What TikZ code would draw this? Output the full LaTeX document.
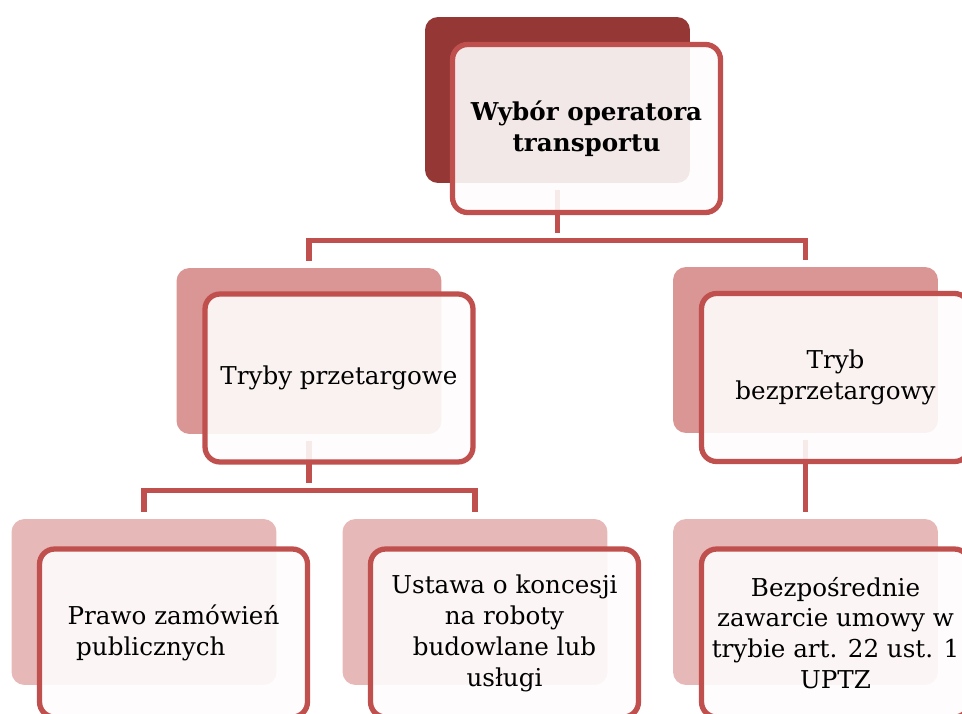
\documentclass[tikz,border=0pt]{standalone}
\usepackage{fontspec}
\setmainfont{DejaVu Serif}
\usepackage{tikz, xcolor}
\usetikzlibrary{positioning}

\definecolor{ciemny}{RGB}{149,55,53}
\definecolor{sredni}{RGB}{217,150,148}
\definecolor{jasny}{RGB}{230,185,184}
\definecolor{ramka}{RGB}{192,80,77}
\definecolor{tlo}{RGB}{254,252,252}

\tikzset{
    tyl/.style={rounded corners=0.26cm, minimum width=5.3cm, minimum height=3.32cm, inner sep=0pt},
    przod/.style={draw=ramka, line width=3pt, fill=tlo, fill opacity=0.9, text opacity=1,
        rounded corners=0.3cm, minimum width=5.36cm, minimum height=3.36cm, inner sep=0pt,
        align=center, font=\fontsize{14}{17.6}\selectfont},
    lacznik/.style={draw=ramka, line width=3pt, shorten <=4pt, shorten >=4pt}
}

\begin{document}
\begin{tikzpicture}[x=0.02cm, y=-0.02cm]
    \clip (0,0) rectangle (962,713);
    \useasboundingbox (0,0) rectangle (962,713);

    % tylne prostokaty
    \node [tyl, fill=ciemny] (wyborT) at (557.5,100) {};
    \node [tyl, fill=sredni] (przetT) at (309,351) {};
    \node [tyl, fill=sredni] (bezT) at (805.5,350) {};
    \node [tyl, fill=jasny] (prawoT) at (144,602) {};
    \node [tyl, fill=jasny] (ustawaT) at (475,602) {};
    \node [tyl, fill=jasny] (bezposT) at (805.5,602) {};

    % polaczenia
    \draw [lacznik] (wyborT.south) -- ++(0,57) coordinate (szynaA);
    \draw [lacznik, shorten <=0pt] (szynaA) -| (przetT.north);
    \draw [lacznik, shorten <=0pt] (szynaA) -| (bezT.north);
    \draw [lacznik] (przetT.south) -- ++(0,56) coordinate (szynaB);
    \draw [lacznik, shorten <=0pt] (szynaB) -| (prawoT.north);
    \draw [lacznik, shorten <=0pt] (szynaB) -| (ustawaT.north);
    \draw [lacznik] (bezT.south) -- (bezposT.north);

    % przednie prostokaty z tekstem
    \node [przod, font=\fontsize{14}{17.6}\selectfont\bfseries] (wybor) at ([shift={(29,28.5)}]wyborT.center)
        {Wybór operatora\\transportu};
    \node [przod] (przet) at ([shift={(30,27)}]przetT.center) {Tryby przetargowe};
    \node [przod] (bez) at ([shift={(30,27.5)}]bezT.center) {Tryb\\bezprzetargowy};
    \node [przod, align=left] (prawo) at ([shift={(29.5,31)}]prawoT.center)
        {Prawo zamówień\\\hspace*{0.35em}publicznych};
    \node [przod] (ustawa) at ([shift={(29.5,31)}]ustawaT.center)
        {Ustawa o koncesji\\na roboty\\budowlane lub\\usługi};
    \node [przod] (bezpos) at ([shift={(30,31)}]bezposT.center)
        {Bezpośrednie\\zawarcie umowy w\\trybie art. 22 ust. 1\\UPTZ};
\end{tikzpicture}
\end{document}
